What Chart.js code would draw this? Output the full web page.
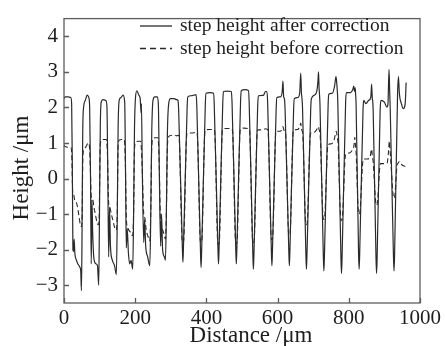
<!DOCTYPE html>
<html>
<head>
<meta charset="utf-8">
<script src="https://cdn.jsdelivr.net/npm/chart.js@4.4.1/dist/chart.umd.min.js"></script>
<style>
  html, body { margin: 0; padding: 0; background: #fff; }
  #wrap { width: 445px; height: 346px; }
</style>
</head>
<body>
<div id="wrap"><canvas id="chart" width="445" height="346"></canvas></div>
<script>
// [distance µm, height µm]
const afterCorrection = [
  [0,2.25],[3,2.3],[12,2.3],[19,2.28],[21.5,2.1],[23.5,0.2],[25,-2.0],[27,-2.05],[28.5,-1.7],[30.5,-2.1],[35,-2.3],[40,-2.42],[45,-2.5],[47,-2.6],[49,-3.15],[50.5,-1.8],[52.5,1.2],[55,2.0],[60,2.2],[65,2.35],[69,2.3],[72,2.05],
  [74.5,0],[76.5,-2.4],[78.5,-0.6],[80.5,-1.5],[84,-2.25],[90,-2.4],[94,-2.45],[97.5,-3.0],[99.5,-1.2],[102,1.5],[104.5,2.15],[110,2.22],[117,2.2],[120.5,2.05],
  [123,0.2],[125.5,-2.2],[128,-0.8],[130.5,-1.9],[136,-2.3],[142,-2.45],[147,-2.7],[149.5,-1.2],[152,1.4],[155,2.2],[160,2.28],[166,2.35],[170.5,2.15],
  [173,0],[175,-1.95],[177.5,-1.4],[181,-2.1],[184.5,-2.4],[188.5,-2.3],[193,-2.55],[195.5,-1.0],[198,1.4],[201,2.3],[205,2.47],[210,2.35],[214,2.25],[216.5,1.85],[217.5,2.1],
  [220,0.2],[224,-1.8],[226.5,-1.15],[229.5,-1.9],[235,-2.2],[241,-2.45],[243.5,-1.2],[246.5,1.3],[250,2.2],[255,2.3],[262,2.3],[265,2.1],
  [268,0],[271.5,-1.9],[274,-1.0],[277,-2.0],[282,-2.2],[285,-2.3],[287.5,-1.0],[290.5,1.3],[294,2.1],[299,2.25],[309,2.25],[316,2.22],
  [320,2.2],[322,1.95],[332.5,-1.95],[334,-2.35],[335.5,-1.95],[346,2.05],[348,2.3],[357,2.33],
  [371,2.36],[373,2.06],[383.5,-2.1],[385,-2.5],[386.5,-2.1],[397,2.1],[399,2.4],[410,2.42],
  [420,2.4],[422,2.1],[432.5,-2.0],[434,-2.4],[435.5,-2.0],[446,2.15],[448,2.45],[459,2.46],
  [470,2.45],[472,2.15],[482.5,-2.0],[484,-2.4],[485.5,-2.0],[496,2.18],[498,2.47],[508,2.5],
  [518,2.48],[520,2.18],[530.5,-2.15],[532,-2.55],[533.5,-2.15],[544,2.03],[546,2.33],[560,2.34],[566,2.45],
  [570,2.45],[572,2.15],[582.5,-2.05],[584,-2.45],[585.5,-2.05],[596,1.98],[598,2.28],[608,2.3],[613,2.45],[615,2.74],[617,2.3],
  [619,2.25],[621,1.95],[631.5,-2.05],[633,-2.45],[634.5,-2.05],[645,1.95],[647,2.25],[657,2.28],[662,2.4],[665,2.97],[667,2.4],
  [668,2.3],[670,2.0],[679.5,-2.15],[681,-2.55],[682.5,-2.15],[693,1.95],[695,2.25],[704,2.35],[710,2.45],[713,2.7],[715,3.0],[716.5,2.55],
  [717.5,2.4],[719,2.1],[728.5,-2.2],[730,-2.6],[731.5,-2.2],[742,2.1],[744,2.37],[754,2.4],[760,2.6],[764,2.87],[766,2.7],
  [767.5,2.5],[769,2.2],[778,-2.27],[779.5,-2.67],[781,-2.27],[791,2.12],[793,2.42],[805,2.42],[811,2.5],[814,2.6],[816,2.45],[818,2.55],
  [819,2.4],[820.5,2.1],[827.5,-2.15],[829,-2.55],[830.5,-2.15],[840,1.95],[842,2.2],[848,2.11],[856,2.2],[862,2.3],[864,2.66],[866,2.25],
  [867,2.2],[868.5,1.9],[876.5,-2.27],[878,-2.67],[879.5,-2.27],[888,1.9],[890,2.2],[900,2.15],[907,2.01],[910,2.1],[913,3.07],[915,2.4],
  [916.5,1.9],[925.5,-2.2],[927,-2.6],[928.5,-2.2],[937,2.4],[939.5,2.87],[942,2.4],[948,2.1],[953,1.97],[957,2.02],[959,2.2],[961,2.7]
];

const beforeCorrection = [
  [0,0.95],[3,0.9],[12,0.88],[20,0.87],[22,0.6],[24.5,-0.4],[27,-0.45],[30,-0.6],[34,-0.65],[38,-0.8],[42,-1.05],[46,-1.3],[49,-1.35],[51,-1.0],[53,0.6],[56,0.82],[62,0.9],[68,1.0],[71,0.95],
  [74,0.3],[76.5,-0.5],[80,-0.55],[84,-0.8],[88,-1.0],[92,-1.2],[96,-1.3],[98.5,-1.2],[101.5,0.9],[105,1.08],[112,1.1],[119,1.1],
  [122,0.7],[125.5,-0.7],[128.5,-0.8],[133,-1.0],[138,-1.2],[143,-1.4],[147,-1.45],[149.5,-1.0],[152,0.9],[155,1.08],[162,1.1],[169,1.1],
  [172,0.6],[175.5,-1.2],[178,-1.35],[182,-1.45],[186,-1.5],[190,-1.6],[193,-1.6],[195.5,-1.0],[198,0.8],[201,1.02],[208,1.05],[215,1.05],
  [219,0.5],[224,-1.0],[227,-1.1],[231,-1.45],[235,-1.6],[239,-1.72],[241,-1.75],[243.5,-1.0],[246.5,0.9],[250,1.12],[257,1.15],[264,1.15],
  [267,0.6],[271.5,-1.3],[275,-1.4],[279,-1.5],[283,-1.65],[285,-1.7],[287.5,-1.0],[290.5,0.9],[294,1.18],[302,1.22],[312,1.22],[316,1.2],
  [321.5,1.22],[323.7,1.12],[331.9,-1.75],[334,-1.8],[336.1,-1.75],[344.3,1.18],[346.5,1.28],[358,1.28],
  [372.5,1.3],[374.7,1.2],[382.9,-1.75],[385,-1.8],[387.1,-1.75],[395.3,1.27],[397.5,1.37],[409,1.38],
  [421.5,1.38],[423.7,1.28],[431.9,-1.8],[434,-1.85],[436.1,-1.8],[444.3,1.3],[446.5,1.4],[458,1.41],
  [471.5,1.4],[473.7,1.3],[481.9,-1.78],[484,-1.83],[486.1,-1.78],[494.3,1.3],[496.5,1.4],[507,1.42],
  [519.5,1.4],[521.7,1.3],[529.9,-1.75],[532,-1.8],[534.1,-1.75],[542.3,1.27],[544.5,1.37],[558,1.37],[566,1.4],
  [571.5,1.38],[573.7,1.28],[581.9,-1.67],[584,-1.72],[586.1,-1.67],[594.3,1.23],[596.5,1.33],[607,1.33],[612,1.38],[615,1.46],[618,1.36],
  [620.5,1.33],[622.7,1.23],[630.9,-1.53],[633,-1.58],[635.1,-1.53],[643.3,1.27],[645.5,1.37],[656,1.38],[662,1.45],[665,1.56],[667,1.4],
  [668.5,1.35],[670.7,1.25],[678.9,-1.25],[681,-1.3],[683.1,-1.25],[691.3,1.18],[693.5,1.28],[703,1.3],[710,1.38],[715,1.46],[716.5,1.38],
  [717.5,1.35],[719.7,1.2],[727.9,-1.1],[730,-1.15],[732.1,-1.1],[740.3,0.86],[742.5,0.96],[752,0.98],[759,1.1],[765,1.33],[767,1.2],
  [767.8,1.15],[769.7,1.0],[777.4,-1.13],[779.5,-1.18],[781.6,-1.13],[789.8,0.6],[792,0.69],[802,0.72],[810,0.8],[814,0.9],[817,1.16],[819,0.9],
  [819.6,0.85],[820.7,0.7],[826.9,-0.95],[829,-1.0],[831.1,-0.95],[839.3,0.48],[841.5,0.55],[852,0.55],[860,0.62],[864,0.83],[866,0.65],
  [866.6,0.6],[868.7,0.45],[875.9,-0.7],[878,-0.75],[880.1,-0.7],[887.3,0.35],[889.5,0.42],[900,0.42],[908,0.45],[911,0.7],[914,1.05],[916,0.8],
  [918,0.5],[924.9,-0.5],[927,-0.55],[929.1,-0.5],[935.3,0.35],[937.5,0.42],[943,0.48],[948,0.4],[953,0.36],[958,0.35],[962,0.4]
];

const xTicks = [0, 200, 400, 600, 800, 1000];
const yTicks = [-3, -2, -1, 0, 1, 2, 3, 4];
const seriesLabels = ['step height after correction', 'step height before correction'];

const serif = '"Liberation Serif", "DejaVu Serif", serif';
const ink = '#1e1e1e';

const toPoints = arr => arr.map(p => ({ x: p[0], y: p[1] }));

// frame with inward ticks, axis titles and the legend inside the plot
const framePlugin = {
  id: 'frame',
  afterDraw(chart) {
    const { ctx, chartArea: a, scales: { x, y } } = chart;
    ctx.save();
    ctx.strokeStyle = '#5c5c5c';
    ctx.lineWidth = 1.3;
    ctx.strokeRect(a.left, a.top, a.right - a.left, a.bottom - a.top);
    ctx.beginPath();
    x.ticks.forEach(t => {
      const px = Math.round(x.getPixelForValue(t.value)) + 0.5;
      ctx.moveTo(px, a.bottom);
      ctx.lineTo(px, a.bottom - 5);
    });
    y.ticks.forEach(t => {
      const py = Math.round(y.getPixelForValue(t.value)) + 0.5;
      ctx.moveTo(a.left, py);
      ctx.lineTo(a.left + 5, py);
    });
    ctx.stroke();

    ctx.fillStyle = ink;
    ctx.font = '23px ' + serif;
    ctx.textAlign = 'center';
    ctx.textBaseline = 'middle';
    ctx.fillText('Distance /μm', 251, 336);
    ctx.save();
    ctx.translate(22, 168);
    ctx.rotate(-Math.PI / 2);
    ctx.fillText('Height /μm', 0, 0);
    ctx.restore();

    // legend
    ctx.font = '19.5px ' + serif;
    ctx.textAlign = 'left';
    chart.data.datasets.forEach((ds, i) => {
      const ly = 26 + i * 22.5;
      ctx.save();
      ctx.strokeStyle = ds.borderColor;
      ctx.lineWidth = 1.3;
      ctx.setLineDash(ds.borderDash ? [6, 4] : []);
      ctx.beginPath();
      ctx.moveTo(140, ly);
      ctx.lineTo(172, ly);
      ctx.stroke();
      ctx.restore();
      ctx.fillText(ds.label, 180, ly);
    });
    ctx.restore();
  }
};

new Chart(document.getElementById('chart'), {
  type: 'line',
  data: {
    datasets: [
      {
        label: seriesLabels[0],
        data: toPoints(afterCorrection),
        borderColor: '#2a2a2a',
        borderWidth: 1.2,
        pointRadius: 0,
        cubicInterpolationMode: 'monotone'
      },
      {
        label: seriesLabels[1],
        data: toPoints(beforeCorrection),
        borderColor: '#2a2a2a',
        borderWidth: 1.1,
        borderDash: [5, 3],
        pointRadius: 0,
        cubicInterpolationMode: 'monotone'
      }
    ]
  },
  options: {
    responsive: false,
    animation: false,
    devicePixelRatio: 1,
    layout: { padding: { left: 0, right: 25, top: 11, bottom: 0 } },
    plugins: {
      legend: { display: false },
      tooltip: { enabled: false }
    },
    scales: {
      x: {
        type: 'linear',
        min: 0,
        max: 1000,
        afterBuildTicks: s => { s.ticks = xTicks.map(v => ({ value: v })); },
        afterFit: s => { s.height = 43; },
        grid: { display: false, drawTicks: false },
        border: { display: false },
        ticks: {
          padding: 3,
          color: ink,
          font: { family: serif, size: 21 },
          maxRotation: 0,
          autoSkip: false,
          callback: v => String(v)
        }
      },
      y: {
        type: 'linear',
        min: -3.5,
        max: 4.5,
        afterBuildTicks: s => { s.ticks = yTicks.map(v => ({ value: v })); },
        afterFit: s => { s.width = 64; },
        grid: { display: false, drawTicks: false },
        border: { display: false },
        ticks: {
          padding: 6,
          color: ink,
          font: { family: serif, size: 21 },
          autoSkip: false,
          callback: v => String(v).replace('-', '\u2212')
        }
      }
    }
  },
  plugins: [framePlugin]
});
</script>
</body>
</html>
